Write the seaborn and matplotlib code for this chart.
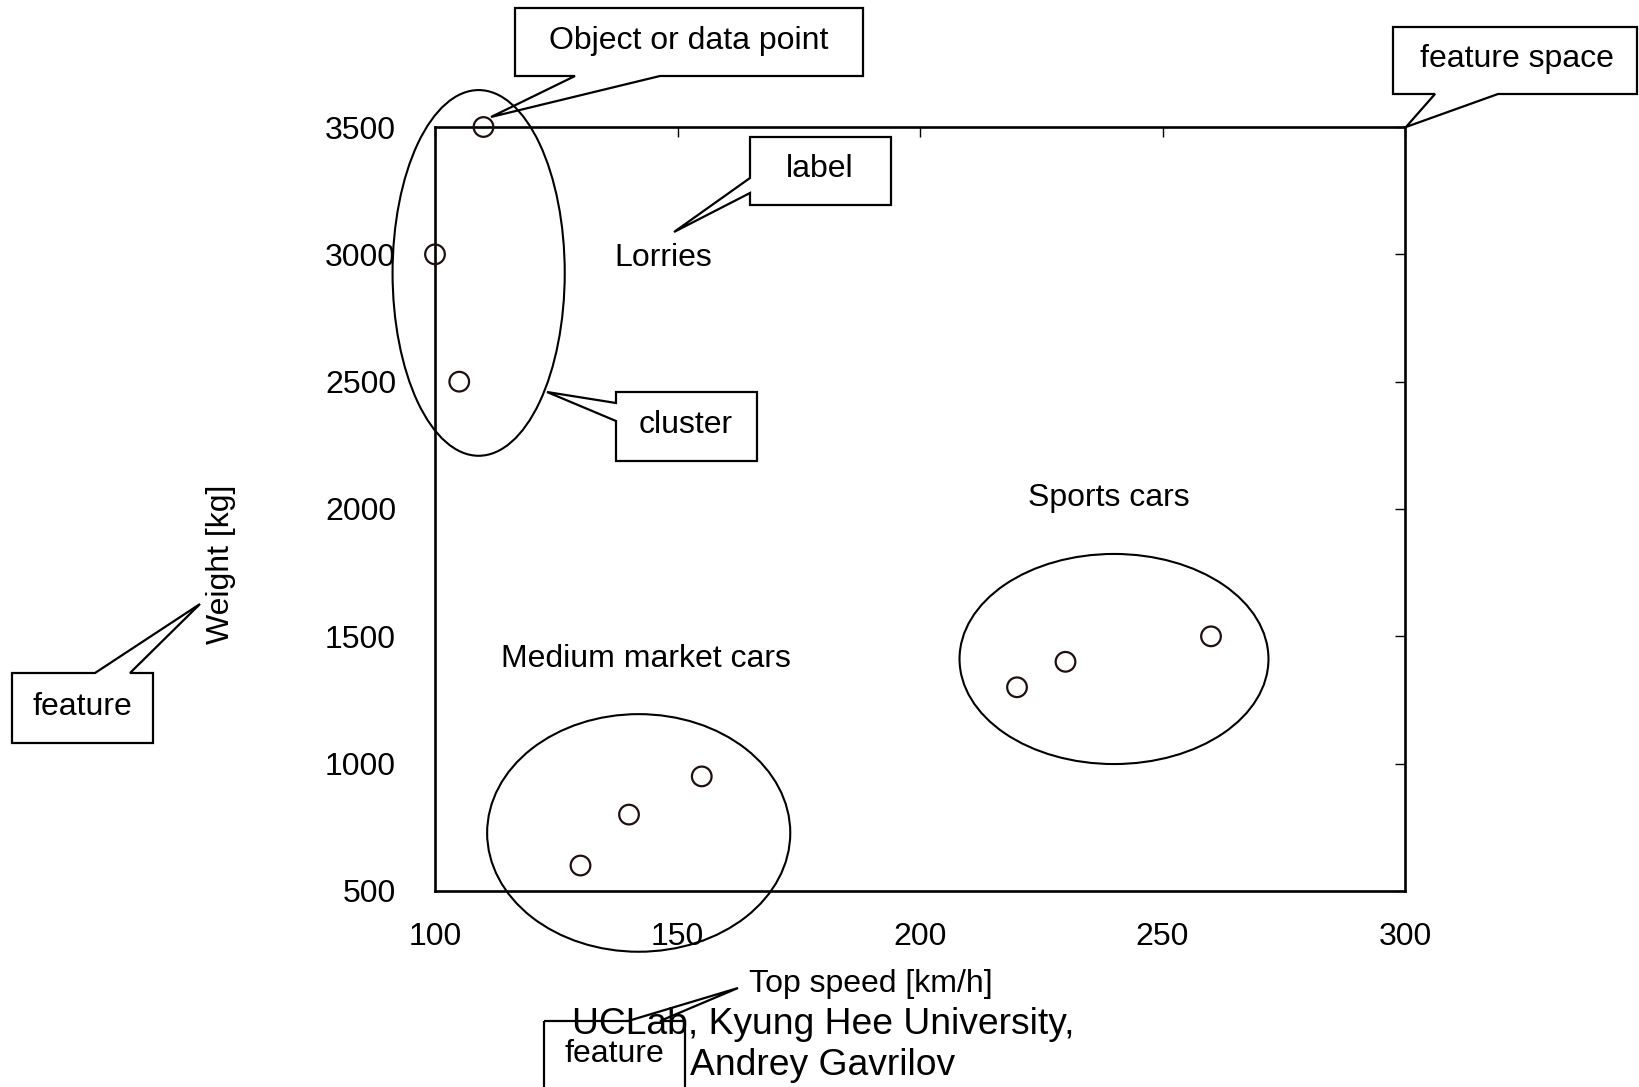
import pandas as pd
import matplotlib.pyplot as plt
import seaborn as sns
from matplotlib.patches import Ellipse, Polygon

# data points: top speed [km/h] vs weight [kg]
lorry_speed = [110, 100, 105]
lorry_weight = [3500, 3000, 2500]
medium_speed = [130, 140, 155]
medium_weight = [600, 800, 950]
sports_speed = [220, 230, 260]
sports_weight = [1300, 1400, 1500]

x_ticks = [100, 150, 200, 250, 300]
y_ticks = [500, 1000, 1500, 2000, 2500, 3000, 3500]

# cluster ellipses and their labels (data units)
cluster_names = ['Lorries', 'Medium market cars', 'Sports cars']
ellipse_cx = [109, 142, 240]
ellipse_cy = [2927, 728, 1411]
ellipse_w = [35.5, 62.5, 63.7]
ellipse_h = [1436, 933, 825]
label_x = [147, 143.5, 239]
label_y = [2985, 1412, 2042]

# callout boxes (figure pixels, y downwards)
callout_text = ['Object or data point', 'feature space', 'label', 'cluster', 'feature', 'feature']
callout_box = [(515, 8, 863, 76), (1393, 27, 1637, 94), (750, 137, 891, 205),
               (616, 392, 757, 461), (12, 673, 153, 743), (544, 1021, 685, 1130)]
callout_side = ['bottom', 'bottom', 'left', 'left', 'top', 'top']
callout_base = [(575, 660), (1435, 1498), (178, 193), (403, 421), (95, 130), (628, 660)]
callout_tip = [(491, 117), (1406, 127), (674, 232), (547, 392), (200, 604), (738, 988)]
callout_text_xy = [(689, 41), (1517, 59), (820, 169), (686, 425), (82, 707), (614, 1054)]

W, H = 1639, 1087
FS = 23

sns.set_theme(style='white')
plt.rcParams['font.family'] = ['Liberation Sans', 'DejaVu Sans']

df = pd.DataFrame({
    'speed': lorry_speed + medium_speed + sports_speed,
    'weight': lorry_weight + medium_weight + sports_weight,
})

fig = plt.figure(figsize=(W / 100, H / 100), dpi=100)
ax = fig.add_axes([435 / W, 1 - 891 / H, 970 / W, 764 / H])

sns.scatterplot(data=df, x='speed', y='weight', ax=ax, marker='o', s=200,
                facecolors='none', edgecolor='#1f0f0f', linewidth=1.6,
                clip_on=False, zorder=3)

for cx, cy, w, h in zip(ellipse_cx, ellipse_cy, ellipse_w, ellipse_h):
    ax.add_patch(Ellipse((cx, cy), w, h, fill=False, edgecolor='black',
                         linewidth=1.5, clip_on=False))
for name, lx, ly in zip(cluster_names, label_x, label_y):
    ax.text(lx, ly, name, ha='center', va='center', fontsize=FS, color='black')

ax.set_xlim(100, 300)
ax.set_ylim(500, 3500)
ax.set_xticks(x_ticks)
ax.set_yticks(y_ticks)
ax.tick_params(direction='in', length=7, width=1, top=True, right=True,
               labelsize=FS, colors='black')
ax.tick_params(axis='x', pad=22)
ax.tick_params(axis='y', pad=28)
for sp in ax.spines.values():
    sp.set_linewidth(1.9)
    sp.set_color('black')

ax.set_xlabel('Top speed [km/h]', fontsize=FS, color='black')
ax.set_ylabel('Weight [kg]', fontsize=FS, color='black')
ax.xaxis.set_label_coords((871 - 435) / 970, (891 - 969) / 764)
ax.yaxis.set_label_coords((236 - 435) / 970, (891 - 564) / 764)

# overlay in pixel units for the callouts
ov = fig.add_axes([0, 0, 1, 1])
ov.set_xlim(0, W)
ov.set_ylim(H, 0)
ov.axis('off')
ov.patch.set_alpha(0)

for text, (x0, y0, x1, y1), side, (b0, b1), tip, (tx, ty) in zip(
        callout_text, callout_box, callout_side, callout_base, callout_tip, callout_text_xy):
    if side == 'top':
        pts = [(x0, y0), (b0, y0), tip, (b1, y0), (x1, y0), (x1, y1), (x0, y1)]
    elif side == 'bottom':
        pts = [(x0, y0), (x1, y0), (x1, y1), (b1, y1), tip, (b0, y1), (x0, y1)]
    else:
        pts = [(x0, y0), (x1, y0), (x1, y1), (x0, y1), (x0, b1), tip, (x0, b0)]
    ov.add_patch(Polygon(pts, closed=True, fill=False, edgecolor='black',
                         linewidth=1.6, joinstyle='miter', clip_on=False))
    ov.text(tx, ty, text, ha='center', va='center', fontsize=FS, color='black')

ov.text(823, 1045, 'UCLab, Kyung Hee University,\nAndrey Gavrilov', ha='center',
        va='center', fontsize=26.8, color='black', linespacing=1.23)

fig.savefig('out.png', dpi=100)
